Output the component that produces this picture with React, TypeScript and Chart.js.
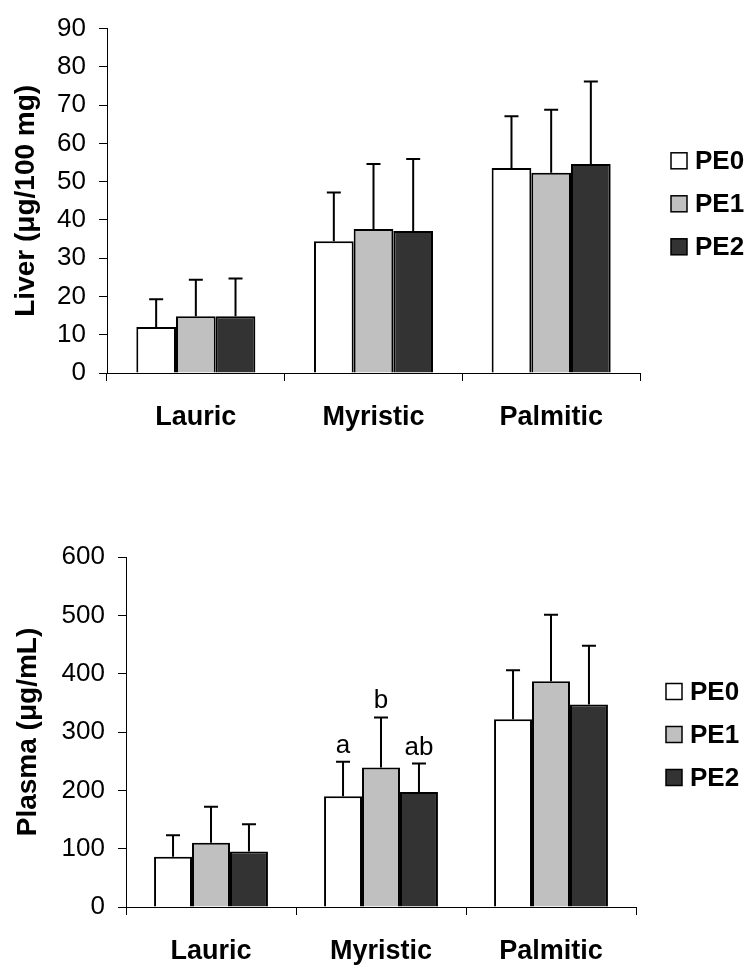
import React, { useEffect, useRef } from "react";
import { Chart, registerables } from "chart.js";

Chart.register(...registerables);

// ---------- data ----------
const categories = ["Lauric", "Myristic", "Palmitic"];
const seriesNames = ["PE0", "PE1", "PE2"];
const seriesColors = ["#ffffff", "#c0c0c0", "#333333"];

// Liver (µg/100 mg)
const liverPE0 = [12.0, 34.4, 53.6];
const liverPE1 = [14.8, 37.6, 52.3];
const liverPE2 = [14.8, 37.1, 54.6];
const liverSdPE0 = [7.3, 12.8, 13.5];
const liverSdPE1 = [9.6, 17.0, 16.5];
const liverSdPE2 = [9.9, 18.8, 21.6];
const liverTickMin = 0;
const liverTickMax = 90;
const liverTickStep = 10;

// Plasma (µg/mL)
const plasmaPE0 = [86, 190, 322];
const plasmaPE1 = [110, 239, 387];
const plasmaPE2 = [95, 197, 347];
const plasmaSdPE0 = [37, 59, 84];
const plasmaSdPE1 = [62, 86, 114];
const plasmaSdPE2 = [47, 49, 101];
const plasmaLettersPE0 = ["", "a", ""];
const plasmaLettersPE1 = ["", "b", ""];
const plasmaLettersPE2 = ["", "ab", ""];
const plasmaTickMin = 0;
const plasmaTickMax = 600;
const plasmaTickStep = 100;

const FONT = "'Liberation Sans', Arial, Helvetica, sans-serif";

// ---------- plugins ----------
const errorBarPlugin = {
  id: "errorBars",
  afterDatasetsDraw(chart: any, _args: any, opts: any) {
    const ctx = chart.ctx;
    const yScale = chart.scales.y;
    const errors: number[][] = opts.errors || [];
    const letters: string[][] = opts.letters || [];
    chart.data.datasets.forEach((ds: any, di: number) => {
      const meta = chart.getDatasetMeta(di);
      meta.data.forEach((bar: any, i: number) => {
        const err = errors[di] ? errors[di][i] : 0;
        const topPx = yScale.getPixelForValue(ds.data[i] + err);
        ctx.save();
        ctx.strokeStyle = "#000";
        ctx.lineWidth = 2;
        ctx.beginPath();
        ctx.moveTo(bar.x, bar.y);
        ctx.lineTo(bar.x, topPx);
        ctx.moveTo(bar.x - 7, topPx);
        ctx.lineTo(bar.x + 7, topPx);
        ctx.stroke();
        const letter = letters[di] ? letters[di][i] : "";
        if (letter) {
          ctx.fillStyle = "#000";
          ctx.font = `26px ${FONT}`;
          ctx.textAlign = "center";
          ctx.textBaseline = "alphabetic";
          ctx.fillText(letter, bar.x, topPx - 9);
        }
        ctx.restore();
      });
    });
  },
};

const sideLegendPlugin = {
  id: "sideLegend",
  afterDraw(chart: any, _args: any, opts: any) {
    const ctx = chart.ctx;
    const area = chart.chartArea;
    const n = chart.data.datasets.length;
    const cy = (area.top + area.bottom) / 2 + opts.offsetY;
    const x = area.right + opts.dx;
    const box = 16;
    ctx.save();
    chart.data.datasets.forEach((ds: any, i: number) => {
      const yc = cy + (i - (n - 1) / 2) * opts.gap;
      ctx.fillStyle = ds.backgroundColor;
      ctx.fillRect(x, yc - box / 2, box, box);
      ctx.strokeStyle = "#000";
      ctx.lineWidth = 1.5;
      ctx.strokeRect(x, yc - box / 2, box, box);
      ctx.fillStyle = "#000";
      ctx.font = `bold 26px ${FONT}`;
      ctx.textAlign = "left";
      ctx.textBaseline = "middle";
      ctx.fillText(ds.label, x + box + 8, yc + 1);
    });
    ctx.restore();
  },
};

// ---------- config builder ----------
function buildConfig(p: {
  values: number[][];
  errors: number[][];
  letters: string[][];
  min: number;
  max: number;
  step: number;
  title: string;
  yWidth: number;
  xHeight: number;
  padTop: number;
  padRight: number;
  titlePad: number;
  legendDx: number;
  legendOffsetY: number;
}) {
  return {
    type: "bar",
    data: {
      labels: categories,
      datasets: seriesNames.map((name, i) => ({
        label: name,
        data: p.values[i],
        backgroundColor: seriesColors[i],
        borderColor: "#000",
        borderWidth: 2,
        categoryPercentage: 0.67,
        barPercentage: 1.0,
      })),
    },
    options: {
      responsive: false,
      animation: false,
      devicePixelRatio: 1,
      layout: { padding: { top: p.padTop, right: p.padRight, left: 0, bottom: 0 } },
      plugins: {
        legend: { display: false },
        tooltip: { enabled: false },
        errorBars: { errors: p.errors, letters: p.letters },
        sideLegend: { dx: p.legendDx, gap: 43, offsetY: p.legendOffsetY },
      },
      scales: {
        x: {
          type: "category",
          offset: true,
          grid: {
            display: true,
            offset: true,
            drawOnChartArea: false,
            drawTicks: true,
            tickLength: 8,
            color: "#000",
            lineWidth: 1,
          },
          border: { display: true, color: "#000", width: 1 },
          ticks: {
            color: "#000",
            padding: 20,
            font: { family: FONT, size: 27, weight: "bold" },
            maxRotation: 0,
          },
          afterFit: (s: any) => {
            s.height = p.xHeight;
          },
        },
        y: {
          min: p.min,
          max: p.max,
          grid: {
            display: true,
            drawOnChartArea: false,
            drawTicks: true,
            tickLength: 8,
            color: "#000",
            lineWidth: 1,
          },
          border: { display: true, color: "#000", width: 1 },
          ticks: {
            stepSize: p.step,
            color: "#000",
            padding: 13,
            font: { family: FONT, size: 26 },
          },
          title: {
            display: true,
            text: p.title,
            color: "#000",
            font: { family: FONT, size: 28, weight: "bold" },
            padding: { top: p.titlePad, bottom: 0 },
          },
          afterFit: (s: any) => {
            s.width = p.yWidth;
          },
        },
      },
    },
    plugins: [errorBarPlugin, sideLegendPlugin],
  };
}

function BarChart({ width, height, config }: { width: number; height: number; config: any }) {
  const ref = useRef<HTMLCanvasElement | null>(null);
  useEffect(() => {
    if (!ref.current) return;
    const chart = new Chart(ref.current, config);
    return () => chart.destroy();
  }, [config]);
  return (
    <canvas
      ref={ref}
      width={width}
      height={height}
      style={{ display: "block", width: width + "px", height: height + "px" }}
    />
  );
}

const liverConfig = buildConfig({
  values: [liverPE0, liverPE1, liverPE2],
  errors: [liverSdPE0, liverSdPE1, liverSdPE2],
  letters: [[], [], []],
  min: liverTickMin,
  max: liverTickMax,
  step: liverTickStep,
  title: "Liver (\u03bcg/100 mg)",
  yWidth: 107,
  xHeight: 87,
  padTop: 20,
  padRight: 114,
  titlePad: 9,
  legendDx: 31,
  legendOffsetY: 3,
});

const plasmaConfig = buildConfig({
  values: [plasmaPE0, plasmaPE1, plasmaPE2],
  errors: [plasmaSdPE0, plasmaSdPE1, plasmaSdPE2],
  letters: [plasmaLettersPE0, plasmaLettersPE1, plasmaLettersPE2],
  min: plasmaTickMin,
  max: plasmaTickMax,
  step: plasmaTickStep,
  title: "Plasma (\u03bcg/mL)",
  yWidth: 126,
  xHeight: 62,
  padTop: 97,
  padRight: 118,
  titlePad: 11,
  legendDx: 30,
  legendOffsetY: 2.5,
});

export default function App() {
  return (
    <div
      style={{
        position: "absolute",
        left: 0,
        top: 0,
        width: 754,
        height: 969,
        background: "#fff",
        overflow: "hidden",
      }}
    >
      <BarChart width={754} height={460} config={liverConfig} />
      <BarChart width={754} height={509} config={plasmaConfig} />
    </div>
  );
}
